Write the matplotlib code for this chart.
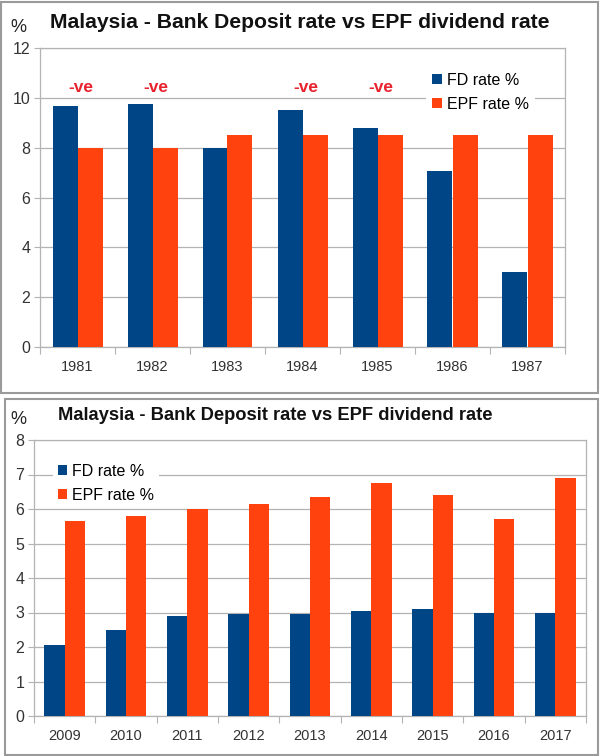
import matplotlib
matplotlib.use('Agg')
import matplotlib.pyplot as plt
from matplotlib.patches import Rectangle
import numpy as np

plt.rcParams['font.family'] = ['Liberation Sans', 'DejaVu Sans']

# ========== データ ==========
TITLE = 'Malaysia - Bank Deposit rate vs EPF dividend rate'

years_a = ['1981', '1982', '1983', '1984', '1985', '1986', '1987']
fd_a = [9.68, 9.74, 8.0, 9.5, 8.8, 7.05, 3.0]
epf_a = [8.0, 8.0, 8.5, 8.5, 8.5, 8.5, 8.5]
neg_years = ['1981', '1982', '1984', '1985']

years_b = ['2009', '2010', '2011', '2012', '2013', '2014', '2015', '2016', '2017']
fd_b = [2.07, 2.5, 2.9, 2.97, 2.97, 3.05, 3.1, 3.0, 3.0]
epf_b = [5.65, 5.8, 6.0, 6.15, 6.35, 6.75, 6.4, 5.7, 6.9]

FD_COLOR = '#004586'
EPF_COLOR = '#ff420e'
GRID = '#b3b3b3'
W_PX, H_PX = 600, 756


def px_axes(fig, left, top, right, bottom):
    """ピクセル座標で軸を作る"""
    return fig.add_axes([left / W_PX, 1 - bottom / H_PX,
                         (right - left) / W_PX, (bottom - top) / H_PX])


def draw_panel(ax, years, fd, epf, ymax):
    x = np.arange(len(years))
    bw = 1 / 3
    ax.bar(x - bw / 2, fd, bw, color=FD_COLOR, label='FD rate %', zorder=3)
    ax.bar(x + bw / 2, epf, bw, color=EPF_COLOR, label='EPF rate %', zorder=3)
    ax.set_xlim(-0.5, len(years) - 0.5)
    ax.set_ylim(0, ymax)
    ax.set_yticks(np.arange(0, ymax + 0.1, 2 if ymax > 8 else 1))
    ax.yaxis.grid(True, color=GRID, lw=0.9, zorder=0)
    ax.set_axisbelow(True)
    # カテゴリ境界に目盛り
    ax.set_xticks(np.arange(-0.5, len(years)), minor=False)
    ax.set_xticklabels([])
    ax.set_xticks(x, minor=True)
    ax.set_xticklabels(years, minor=True)
    ax.tick_params(axis='x', which='major', length=5, color=GRID, direction='out')
    ax.tick_params(axis='x', which='minor', length=0, pad=9, labelsize=10.5,
                   labelcolor='#333333')
    ax.tick_params(axis='y', length=4, color=GRID, labelsize=11.5,
                   labelcolor='#333333', pad=3)
    for s in ax.spines.values():
        s.set_color(GRID)
        s.set_linewidth(0.9)
    return x


fig = plt.figure(figsize=(6, 7.56), dpi=100)
fig.patch.set_facecolor('white')

# パネル枠
fig.patches.append(Rectangle((1 / W_PX, 1 - 393 / H_PX), 597 / W_PX, 391 / H_PX,
                             transform=fig.transFigure, fill=False,
                             edgecolor='#9a9a9a', lw=1.5))
fig.patches.append(Rectangle((5 / W_PX, 1 - 755 / H_PX), 593 / W_PX, 356 / H_PX,
                             transform=fig.transFigure, fill=False,
                             edgecolor='#9a9a9a', lw=1.5))

# ---- 上段 1981-1987 ----
ax1 = px_axes(fig, 40, 48, 565, 347)
x1 = draw_panel(ax1, years_a, fd_a, epf_a, 12)
for yr in neg_years:
    ax1.text(years_a.index(yr) + 0.04, 10.4, '-ve', color='#e8232e',
             fontsize=12.5, fontweight='bold', ha='center', va='center', zorder=4)
leg1 = ax1.legend(loc='upper left', bbox_to_anchor=(0.72, 0.965),
                  frameon=True, fancybox=False, edgecolor='none', framealpha=1,
                  fontsize=11.5, handlelength=0.6, handleheight=0.6,
                  handletextpad=0.3, labelspacing=0.55, borderpad=0.4)
fig.text(18 / W_PX, 1 - 27 / H_PX, '%', fontsize=13, ha='center', va='center',
         color='#222222')
fig.text(50 / W_PX, 1 - 23 / H_PX, TITLE, fontsize=15.2, fontweight='bold',
         ha='left', va='center', color='#111111')

# ---- 下段 2009-2017 ----
ax2 = px_axes(fig, 34, 440, 586, 716)
x2 = draw_panel(ax2, years_b, fd_b, epf_b, 8)
leg2 = ax2.legend(loc='upper left', bbox_to_anchor=(0.02, 0.96),
                  frameon=True, fancybox=False, edgecolor='none', framealpha=1,
                  fontsize=11.5, handlelength=0.6, handleheight=0.6,
                  handletextpad=0.3, labelspacing=0.55, borderpad=0.3)
fig.text(18 / W_PX, 1 - 420 / H_PX, '%', fontsize=13, ha='center', va='center',
         color='#222222')
fig.text(58 / W_PX, 1 - 415 / H_PX, TITLE, fontsize=13.2, fontweight='bold',
         ha='left', va='center', color='#111111')

fig.savefig('out.png', dpi=100, facecolor='white')
